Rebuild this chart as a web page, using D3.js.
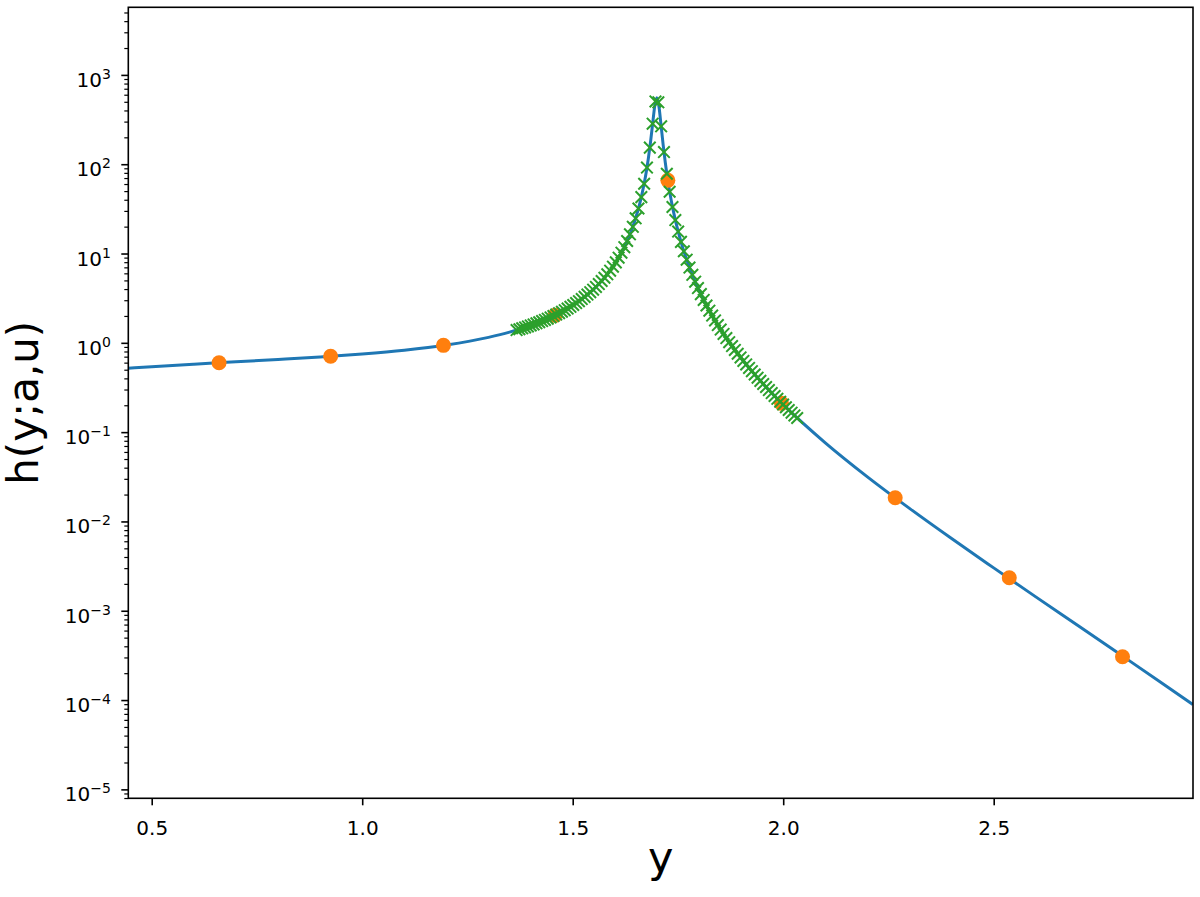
<!DOCTYPE html>
<html>
<head>
<meta charset="utf-8">
<script src="https://cdn.jsdelivr.net/npm/d3@7"></script>
<style>
  html, body { margin: 0; padding: 0; background: #fff; }
  svg { display: block; }
  text { font-family: "DejaVu Sans", sans-serif; fill: #000; }
</style>
</head>
<body>
<svg id="chart" width="1200" height="897"></svg>
<script>
// ---- data ----
const curveY = [0.444, 0.5, 0.6, 0.7, 0.8, 0.9, 1.0, 1.1, 1.2, 1.3, 1.35, 1.4, 1.45, 1.5, 1.55, 1.575, 1.6, 1.615, 1.63, 1.64, 1.65, 1.66, 1.67, 1.675, 1.68, 1.685, 1.69, 1.695, 1.7, 1.705, 1.71, 1.715, 1.72, 1.725, 1.73, 1.74, 1.75, 1.76, 1.77, 1.785, 1.8, 1.825, 1.85, 1.9, 1.95, 2.0, 2.1, 2.2, 2.3, 2.4, 2.5, 2.6, 2.7, 2.8, 2.9, 2.973];
const curveH = [0.520, 0.541, 0.577, 0.613, 0.651, 0.695, 0.751, 0.828, 0.947, 1.152, 1.318, 1.564, 1.951, 2.63, 4.00, 5.32, 7.65, 10.06, 14.04, 18.35, 25.3, 37.4, 61.5, 83.4, 118.9, 179.9, 287.4, 452, 556, 437, 268.6, 162.4, 103.8, 70.4, 50.1, 28.5, 17.99, 12.20, 8.72, 5.64, 3.88, 2.275, 1.444, 0.675, 0.3565, 0.2033, 0.0760, 0.0316, 0.0140, 0.00643, 0.00302, 0.00143, 0.000682, 0.000325, 0.0001546, 0.0000892];

const dotY = [0.660, 0.925, 1.193, 1.458, 1.726, 1.996, 2.266, 2.537, 2.806];
const dotH = [0.598, 0.707, 0.937, 2.03, 66, 0.21, 0.0184, 0.00234, 0.000305];

const nodeY = [1.3667, 1.3734, 1.3801, 1.3869, 1.3936, 1.4003, 1.4071, 1.4138, 1.4205, 1.4273,
  1.4340, 1.4407, 1.4475, 1.4542, 1.4609, 1.4677, 1.4744, 1.4811, 1.4879, 1.4946,
  1.5013, 1.5081, 1.5148, 1.5215, 1.5283, 1.5350, 1.5417, 1.5485, 1.5552, 1.5620,
  1.5687, 1.5754, 1.5822, 1.5889, 1.5956, 1.6024, 1.6091, 1.6158, 1.6226, 1.6293,
  1.6360, 1.6428, 1.6495, 1.6562, 1.6630, 1.6697, 1.6764, 1.6832, 1.6899, 1.6966,
  1.7034, 1.7101, 1.7168, 1.7236, 1.7303, 1.7370, 1.7438, 1.7505, 1.7572, 1.7640,
  1.7707, 1.7774, 1.7842, 1.7909, 1.7976, 1.8044, 1.8111, 1.8178, 1.8246, 1.8313,
  1.8381, 1.8448, 1.8515, 1.8583, 1.8650, 1.8717, 1.8785, 1.8852, 1.8919, 1.8987,
  1.9054, 1.9121, 1.9189, 1.9256, 1.9323, 1.9391, 1.9458, 1.9525, 1.9593, 1.9660,
  1.9727, 1.9795, 1.9862, 1.9929, 1.9997, 2.0064, 2.0131, 2.0199, 2.0266, 2.0333];
const nodeH = [1.389, 1.420, 1.453, 1.488, 1.526, 1.565, 1.607, 1.652, 1.700, 1.751,
  1.805, 1.864, 1.927, 1.994, 2.07, 2.15, 2.23, 2.32, 2.42, 2.53,
  2.65, 2.79, 2.93, 3.09, 3.27, 3.47, 3.69, 3.94, 4.23, 4.55,
  4.92, 5.35, 5.85, 6.43, 7.13, 7.96, 8.98, 10.22, 11.79, 13.8,
  16.4, 19.9, 24.8, 31.9, 42.8, 60.4, 91.8, 153.4, 284.6, 505,
  493.4, 265.7, 136.8, 78.2, 49.2, 33.2, 23.7, 17.6, 13.5, 10.6,
  8.53, 6.96, 5.77, 4.84, 4.10, 3.51, 3.02, 2.62, 2.29, 2.02,
  1.780, 1.579, 1.407, 1.259, 1.130, 1.017, 0.919, 0.832, 0.755, 0.687,
  0.627, 0.573, 0.524, 0.481, 0.442, 0.407, 0.375, 0.346, 0.320, 0.296,
  0.274, 0.254, 0.236, 0.219, 0.204, 0.190, 0.177, 0.165, 0.154, 0.144];

const xTicks = [0.5, 1.0, 1.5, 2.0, 2.5];
const xTickLabels = ["0.5", "1.0", "1.5", "2.0", "2.5"];
const yTickExps = [-5, -4, -3, -2, -1, 0, 1, 2, 3];
const yTickLabels = ["\u22125", "\u22124", "\u22123", "\u22122", "\u22121", "0", "1", "2", "3"];

// ---- layout ----
const L = 128.3, R = 1193, T = 7.3, B = 798.3;
const svg = d3.select("#chart");
svg.append("rect").attr("width", 1200).attr("height", 897).attr("fill", "#fff");

const x = d3.scaleLinear().domain([0.4444, 2.9734]).range([L, R]);
const y = d3.scaleLog().domain([Math.pow(10, -5.1), Math.pow(10, 3.757)]).range([B, T]);

svg.append("clipPath").attr("id", "clip")
  .append("rect").attr("x", L).attr("y", T).attr("width", R - L).attr("height", B - T);

const plot = svg.append("g").attr("clip-path", "url(#clip)");

// blue curve
const line = d3.line().x(d => x(d[0])).y(d => y(d[1])).curve(d3.curveMonotoneX);
plot.append("path")
  .datum(curveY.map((v, i) => [v, curveH[i]]))
  .attr("d", line)
  .attr("fill", "none")
  .attr("stroke", "#1f77b4")
  .attr("stroke-width", 3)
  .attr("stroke-linejoin", "round");

// orange dots
plot.selectAll("circle.dot")
  .data(dotY.map((v, i) => [v, dotH[i]]))
  .enter().append("circle")
  .attr("class", "dot")
  .attr("cx", d => x(d[0]))
  .attr("cy", d => y(d[1]))
  .attr("r", 7.5)
  .attr("fill", "#ff7f0e");

// green x markers
const s = 5.8;
plot.selectAll("path.node")
  .data(nodeY.map((v, i) => [v, nodeH[i]]))
  .enter().append("path")
  .attr("class", "node")
  .attr("transform", d => `translate(${x(d[0])},${y(d[1])})`)
  .attr("d", `M${-s},${-s}L${s},${s}M${-s},${s}L${s},${-s}`)
  .attr("stroke", "#2ca02c")
  .attr("stroke-width", 2)
  .attr("fill", "none");

// ---- axes ----
const xAxis = d3.axisBottom(x).tickValues(xTicks)
  .tickFormat((d, i) => xTickLabels[i]).tickSize(7).tickPadding(7);
const gx = svg.append("g").attr("transform", `translate(0,${B})`).call(xAxis);
gx.select(".domain").remove();
gx.selectAll(".tick line").attr("stroke", "#000").attr("stroke-width", 1.6);
gx.selectAll(".tick text").attr("y", 36.5).attr("dy", null)
  .style("font-family", "DejaVu Sans, sans-serif").style("font-size", "20px").attr("fill", "#000");

// y minor ticks
const minors = [];
for (let e = -6; e <= 3; e++) {
  for (let m = 2; m <= 9; m++) {
    const v = m * Math.pow(10, e);
    if (v >= y.domain()[0] && v <= y.domain()[1]) minors.push(v);
  }
}
const gyMinor = svg.append("g").attr("transform", `translate(${L},0)`)
  .call(d3.axisLeft(y).tickValues(minors).tickFormat("").tickSize(4));
gyMinor.select(".domain").remove();
gyMinor.selectAll(".tick line").attr("stroke", "#000").attr("stroke-width", 1.2);

const majors = yTickExps.map(e => Math.pow(10, e));
const gy = svg.append("g").attr("transform", `translate(${L},0)`)
  .call(d3.axisLeft(y).tickValues(majors).tickFormat("").tickSize(7));
gy.select(".domain").remove();
gy.selectAll(".tick line").attr("stroke", "#000").attr("stroke-width", 1.6);

// y tick labels (10 with superscript exponent)
const ylab = svg.append("g");
majors.forEach((v, i) => {
  const t = ylab.append("text")
    .attr("x", L - 17.5)
    .attr("y", y(v) + 12)
    .attr("text-anchor", "end")
    .style("font-size", "20px");
  t.append("tspan").text("10");
  t.append("tspan").attr("dy", -8).style("font-size", "14px").text(yTickLabels[i]);
});

// frame
svg.append("rect")
  .attr("x", L).attr("y", T).attr("width", R - L).attr("height", B - T)
  .attr("fill", "none").attr("stroke", "#000").attr("stroke-width", 1.6);

// axis labels
svg.append("text")
  .attr("x", (L + R) / 2).attr("y", 872)
  .attr("text-anchor", "middle")
  .style("font-size", "43px")
  .text("y");

svg.append("text")
  .attr("transform", `translate(38,${(T + B) / 2}) rotate(-90)`)
  .attr("text-anchor", "middle")
  .style("font-size", "42px")
  .text("h(y;a,u)");
</script>
</body>
</html>
